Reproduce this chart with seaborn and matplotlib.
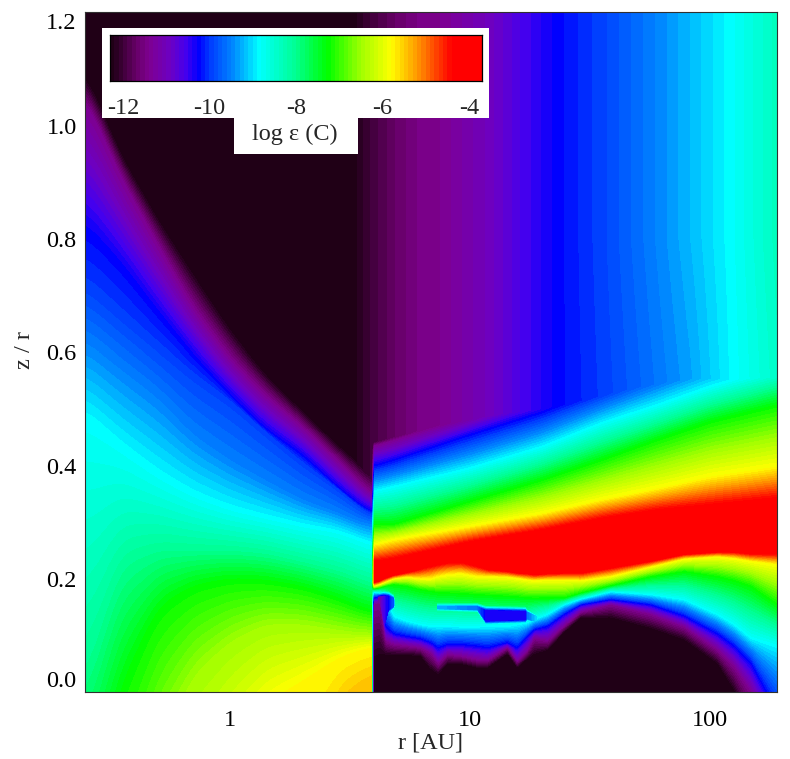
import numpy as np
import seaborn as sns
import matplotlib
matplotlib.use("Agg")
import matplotlib.pyplot as plt
from matplotlib.colors import BoundaryNorm, ListedColormap
from matplotlib.patches import Rectangle
from matplotlib.ticker import FixedLocator, NullFormatter

sns.set_style("ticks")
plt.rcParams["font.family"] = ["Liberation Serif", "DejaVu Serif"]

# Abundance levels (log epsilon) traced by the iso-height tables below
inner_levels = [-12.3, -11.4, -10.25, -9.95, -9.5, -8.85, -8.0, -7.25, -6.5, -5.8, -5.5]
flank_levels = [-12.3, -11.4, -10.25, -8.85, -7.25, -5.8, -4.35]

# Inner disc (r < 4 AU): height z/r of each level per radial column
inner_r = [0.25, 0.35, 0.5, 0.7, 1.0, 1.4, 2.0, 2.8, 3.5, 3.97]
inner_black = [1.10, 0.955, 0.84, 0.745, 0.645, 0.565, 0.50, 0.44, 0.405, 0.385]
inner_purple = [1.05, 0.91, 0.79, 0.68, 0.59, 0.525, 0.47, 0.41, 0.37, 0.345]
inner_blue = [0.82, 0.755, 0.67, 0.595, 0.525, 0.465, 0.42, 0.363, 0.33, 0.315]
inner_azure = [0.72, 0.665, 0.61, 0.56, 0.515, 0.46, 0.405, 0.36, 0.325, 0.31]
inner_sky = [0.62, 0.57, 0.52, 0.455, 0.41, 0.375, 0.34, 0.318, 0.30, 0.295]
inner_cyan = [0.49, 0.435, 0.385, 0.35, 0.325, 0.31, 0.295, 0.285, 0.27, 0.26]
inner_spring = [0.03, 0.22, 0.25, 0.25, 0.25, 0.245, 0.23, 0.215, 0.20, 0.19]
inner_green = [-0.25, 0.0, 0.145, 0.185, 0.198, 0.196, 0.185, 0.165, 0.148, 0.14]
inner_lime = [-0.50, -0.40, -0.10, 0.03, 0.09, 0.12, 0.12, 0.11, 0.105, 0.105]
inner_yellow = [-0.80, -0.70, -0.55, -0.30, -0.12, -0.02, 0.02, 0.06, 0.075, 0.08]
inner_amber = [-1.10, -1.00, -0.85, -0.70, -0.55, -0.40, -0.25, -0.01, 0.02, 0.035]

# Outer disc, surface layers above the abundance peak
upper_r = [3.98, 4.8, 10, 20, 35, 60, 100, 191]
upper_red = [0.231, 0.236, 0.266, 0.287, 0.307, 0.322, 0.331, 0.343]
upper_yellow = [0.260, 0.269, 0.293, 0.316, 0.340, 0.360, 0.381, 0.399]
upper_green = [0.296, 0.296, 0.337, 0.375, 0.410, 0.446, 0.478, 0.507]
upper_cyan = [0.355, 0.363, 0.396, 0.434, 0.475, 0.507, 0.540, 0.575]
upper_blue = [0.400, 0.410, 0.455, 0.495, 0.535, 0.580, 0.620, 0.660]
upper_purple = [0.435, 0.445, 0.490, 0.540, 0.585, 0.630, 0.670, 0.710]
upper_black = [0.445, 0.460, 0.520, 0.580, 0.630, 0.670, 0.710, 0.750]

# Outer disc, layers below the abundance peak
lower_r = [3.98, 4.22, 4.45, 4.82, 5.48, 6.23, 6.86, 7.35, 8.05, 9.14, 10.7, 11.8, 14.3,
           15.7, 17.3, 18.5, 21.0, 24.6, 28.9, 38.6, 56.6, 77.9, 107, 126, 148, 191]
lower_red = [.193, .196, .201, .206, .211, .217, .222, .225, .228, .229, .222, .216, .213,
             .210, .209, .207, .209, .210, .210, .219, .231, .243, .247, .247, .244, .244]
lower_yellow = [.187, .190, .194, .200, .203, .200, .200, .204, .207, .209, .204, .204, .203,
                .201, .198, .197, .198, .198, .197, .204, .221, .235, .239, .236, .231, .225]
lower_green = [.182, .184, .187, .190, .187, .181, .178, .176, .175, .174, .172, .171, .169,
               .168, .166, .166, .166, .166, .175, .188, .204, .213, .204, .197, .187, .154]
lower_cyan = [.176, .175, .169, .134, .125, .119, .116, .116, .116, .115, .115, .116, .116,
              .119, .122, .128, .137, .154, .164, .177, .172, .163, .137, .119, .095, .081]
lower_blue = [.166, .169, .116, .103, .098, .094, .087, .078, .084, .084, .081, .078, .087,
              .078, .098, .110, .116, .137, .154, .163, .154, .134, .103, .081, .051, -.037]
lower_purple = [.154, .157, .090, .084, .081, .078, .069, .051, .066, .063, .057, .056, .078,
                .054, .072, .095, .090, .116, .141, .154, .137, .115, .075, .045, .000, -.096]
lower_black = [.051, .057, .063, .063, .063, .062, .037, .029, .048, .048, .041, .041, .066,
               .041, .057, .064, .072, .104, .130, .129, .110, .090, .048, -.002, -.07, -.155]

# Nearly vertical stripes of the upper atmosphere
atmos_r = [3.38, 3.83, 4.34, 4.87, 6.0, 7.5, 12.1, 16.2, 23, 37, 52.6, 82.5, 121, 190]
atmos_top = [-12.2, -12.0, -11.85, -11.7, -11.5, -11.4, -10.95, -10.6, -10.25, -9.9, -9.6, -9.2, -8.85, -8.35]
atmos_mid = [-12.2, -12.0, -11.85, -11.7, -11.5, -11.4, -10.95, -10.6, -10.25, -9.95, -9.7, -9.35, -8.9, -8.45]

# Depleted pockets cutting into the plateau below the peak
slit_r = [7.3, 10.7, 11.6, 17.0, 17.3, 19.0]
slit_top = [.1525, .1514, .1443, .1425, .141, .134]
slit_bot = [.1466, .1455, .1254, .1278, .129, .123]
slit_val = [-9.2, -9.6, -10.4, -10.4, -9.6, -9.0]
pocket_r = [4.16, 4.38, 4.6, 4.82, 4.9]
pocket_top = [.166, .170, .170, .166, .160]
pocket_bot = [.104, .110, .145, .151, .154]
pocket_val = [-11.3, -10.6, -10.2, -9.8, -8.5]

# Colour table
cmap_vals = [-12.3, -12.1, -11.9, -11.7, -11.4, -10.9, -10.55, -10.25, -9.95, -9.45, -8.85,
             -8.0, -7.27, -6.5, -5.8, -5.2, -4.75, -4.4, -3.7]
cmap_cols = ["#1a0010", "#300028", "#4c0048", "#660066", "#7e0090", "#6c00c4", "#4400ee", "#0000ff",
             "#0040ff", "#0088ff", "#00ffff", "#00ff90", "#00ff00", "#a0ff00", "#ffff00", "#ff9800",
             "#ff4000", "#ff0000", "#ff0000"]

level_step = 0.1
levels = np.arange(-12.3, -3.65, level_step)
mids = 0.5 * (levels[:-1] + levels[1:])
rgb = np.array([matplotlib.colors.to_rgb(c) for c in cmap_cols])
band_rgb = np.column_stack([np.interp(mids, cmap_vals, rgb[:, i]) for i in range(3)])
cmap = ListedColormap(band_rgb)
cmap.set_under(cmap_cols[0])
cmap.set_over(cmap_cols[-1])
norm = BoundaryNorm(levels, cmap.N)


def columns(r_fine, r_knots, heights, window):
    """Carry each level height across the fine radial grid, with light smoothing along r."""
    lr = np.log10(r_fine)
    kernel = np.hanning(window + 2)[1:-1]
    kernel /= kernel.sum()
    out = []
    for h in heights:
        line = np.interp(lr, np.log10(r_knots), h)
        padded = np.pad(line, window, mode="edge")
        out.append(np.convolve(padded, kernel, mode="same")[window:-window])
    return np.array(out)


r_grid = np.logspace(np.log10(0.249), np.log10(190), 1384)
z_grid = np.linspace(0, 1.2014, 1360)

inner_h = columns(r_grid, inner_r,
                  [inner_amber, inner_yellow, inner_lime, inner_green, inner_spring, inner_cyan,
                   inner_sky, inner_azure, inner_blue, inner_purple, inner_black], 90)
inner_v = np.array(inner_levels[::-1])
upper_h = columns(r_grid, upper_r,
                  [upper_red, upper_yellow, upper_green, upper_cyan, upper_blue, upper_purple, upper_black], 40)
lower_h = columns(r_grid, lower_r,
                  [lower_black, lower_purple, lower_blue, lower_cyan, lower_green, lower_yellow, lower_red], 7)
lower_v = np.array(flank_levels)
upper_v = lower_v[::-1]

field_in = np.empty((z_grid.size, r_grid.size))
field_out = np.empty_like(field_in)
for i in range(r_grid.size):
    field_in[:, i] = np.interp(z_grid, np.sort(inner_h[:, i]), inner_v)
    knots = np.concatenate([lower_h[:, i], upper_h[:, i]])
    vals = np.concatenate([lower_v, upper_v])
    field_out[:, i] = np.interp(z_grid, knots, vals)


def carve(field, r_k, top_k, bot_k, val_k, slope=300.0):
    """Lower the field inside a thin depleted layer bounded by top and bottom heights."""
    lr = np.log10(r_grid)
    lk = np.log10(r_k)
    mask = (lr >= lk[0]) & (lr <= lk[-1])
    top = np.interp(lr, lk, top_k)
    bot = np.interp(lr, lk, bot_k)
    val = np.interp(lr, lk, val_k)
    zz, _ = np.meshgrid(z_grid, r_grid, indexing="ij")
    dist = np.maximum(np.maximum(zz - top, bot - zz), 0)
    cut = val + dist * slope
    return np.where(mask, np.minimum(field, cut), field)


field_out = carve(field_out, slit_r, slit_top, slit_bot, slit_val)
field_out = carve(field_out, pocket_r, pocket_top, pocket_bot, pocket_val)

# Radial jump at the inner/outer boundary, resolved over a few cells
lr = np.log10(r_grid)
w = np.clip((lr - np.log10(3.90)) / (np.log10(3.99) - np.log10(3.90)), 0, 1)
field = (1 - w) * field_in + w * field_out

# Atmospheric stripes sit above the peak only
rr, zz = np.meshgrid(lr, z_grid)
a_top = np.interp(lr, np.log10(atmos_r), atmos_top, left=-99)
a_mid = np.interp(lr, np.log10(atmos_r), atmos_mid, left=-99)
frac = np.clip((zz - 0.5) / 0.3, 0, 1)
atmos = a_mid + (a_top - a_mid) * frac
above = zz > np.interp(lr, np.log10(upper_r), upper_red)
field = np.where(above, np.maximum(field, atmos), field)
field = np.clip(field, -12.29, -3.71)

W, H = 790, 759
fig = plt.figure(figsize=(W / 100, H / 100), dpi=100)
ax = fig.add_axes([85 / W, (H - 692) / H, 692 / W, 680 / H])
ax.pcolormesh(r_grid, z_grid, field, cmap=cmap, norm=norm, shading="nearest", rasterized=True)
ax.set_xscale("log")
ax.set_xlim(0.249, 190)
ax.set_ylim(0, 1.2014)

x_major = [1, 10, 100]
x_minor = [f * d for d in (0.1, 1, 10, 100) for f in range(2, 10) if 0.249 <= f * d <= 190]
y_major = [0.0, 0.2, 0.4, 0.6, 0.8, 1.0, 1.2]
y_minor = [round(v * 0.05, 2) for v in range(25) if v % 4]

ax.xaxis.set_major_locator(FixedLocator(x_major))
ax.xaxis.set_minor_locator(FixedLocator(x_minor))
ax.xaxis.set_minor_formatter(NullFormatter())
ax.set_xticklabels(["1", "10", "100"])
ax.set_yticks(y_major)
ax.set_yticks(y_minor, minor=True)
ax.set_yticklabels([f"{v:.1f}" for v in y_major])
ax.tick_params(which="major", direction="in", length=10.5, width=0.7, top=True, right=True,
               labelsize=17.5, color="#202020", labelcolor="black", pad=6)
ax.tick_params(which="minor", direction="in", length=5, width=0.7, top=True, right=True, color="#202020")
ax.tick_params(axis="x", which="major", pad=13)
labels = ax.get_yticklabels()
labels[0].set_verticalalignment("bottom")
labels[-1].set_verticalalignment("top")
for s in ax.spines.values():
    s.set_linewidth(0.8)
    s.set_color("#303030")

ax.set_xlabel("r [AU]", fontsize=17.5, va="center")
ax.xaxis.set_label_coords(0.4986, -0.075)
ax.set_ylabel("z / r", fontsize=17.5, va="center")
ax.yaxis.set_label_coords(-0.088, 0.503)

# Colour key on its white panel
for x0, y0, x1, y1 in [(102, 28, 489, 118), (234, 118, 358, 154)]:
    fig.add_artist(Rectangle((x0 / W, (H - y1) / H), (x1 - x0) / W, (y1 - y0) / H, transform=fig.transFigure,
                             facecolor="white", edgecolor="none", zorder=5))
cax = fig.add_axes([110 / W, (H - 81) / H, 372 / W, 46 / H], zorder=6)
sns.heatmap(mids.reshape(1, -1), cmap=cmap, norm=norm, cbar=False, ax=cax, xticklabels=False, yticklabels=False)
key_major = [-12, -10, -8, -6, -4]
key_minor = [v * 0.5 for v in range(-24, -7) if v % 4]
to_cell = lambda v: (np.asarray(v) - levels[0]) / level_step
cax.set_xticks(to_cell(key_major))
cax.set_xticklabels(["-12", "-10", "-8", "-6", "-4"])
cax.set_xticks(to_cell(key_minor), minor=True)
cax.tick_params(which="major", axis="x", direction="in", length=4, width=0.7, top=True, labelsize=17.5, pad=12, color="black")
cax.tick_params(which="minor", axis="x", direction="in", length=2.5, width=0.7, top=True, color="black")
for s in cax.spines.values():
    s.set_visible(True)
    s.set_linewidth(0.9)
    s.set_color("black")
fig.text(295 / W, (H - 134) / H, "log ε (C)", ha="center", va="center", fontsize=17.5, zorder=7)

fig.savefig("out.png", dpi=100)
